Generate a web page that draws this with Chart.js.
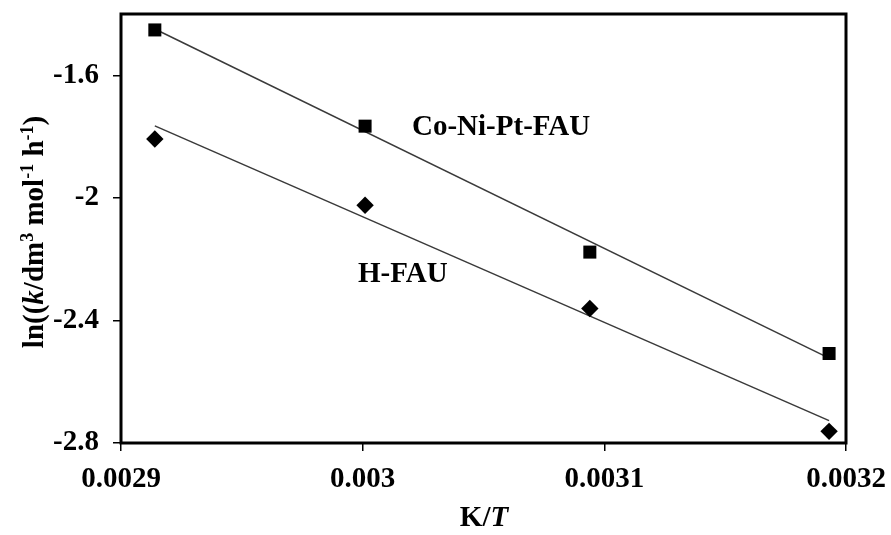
<!DOCTYPE html>
<html><head><meta charset="utf-8">
<script src="https://cdn.jsdelivr.net/npm/chart.js@4"></script>
<style>html,body{margin:0;padding:0;background:#fff}#wrap{width:891px;height:535px;position:relative}</style>
</head><body><div id="wrap"><canvas id="c"></canvas></div>
<script>
// ---- data ----
const invT = [0.002914, 0.003001, 0.003094, 0.003193];
const coNiPtFAU = [-1.452, -1.766, -2.177, -2.508];
const hFAU = [-1.808, -2.024, -2.361, -2.762];
const fitX = [0.002914, 0.003193];
const coNiPtFit = [-1.449, -2.523];
const hFAUFit = [-1.765, -2.727];
const xTicks = [0.0029, 0.0030, 0.0031, 0.0032];
const xTickLabels = ['0.0029', '0.003', '0.0031', '0.0032'];
const yTicks = [-2.8, -2.4, -2.0, -1.6];
const yTickLabels = ['-2.8', '-2.4', '-2', '-1.6'];
const seriesNames = ['Co-Ni-Pt-FAU', 'H-FAU'];

const FONT = '"Liberation Serif", "Times New Roman", serif';
const FS = 29;

const toXY = (xs, ys) => xs.map((x, i) => ({ x: x, y: ys[i] }));
const labelFor = (vals, labels, v) => {
  let best = 0;
  vals.forEach((t, i) => { if (Math.abs(t - v) < Math.abs(vals[best] - v)) best = i; });
  return labels[best];
};

function drawRich(ctx, segs, cx, cy, size, rotate) {
  ctx.save();
  ctx.translate(cx, cy);
  if (rotate) ctx.rotate(-Math.PI / 2);
  const fontFor = s => (s.i ? 'italic ' : '') + 'bold ' + (s.sup ? Math.round(size * 0.62) : size) + 'px ' + FONT;
  let total = 0;
  segs.forEach(s => { ctx.font = fontFor(s); s.w = ctx.measureText(s.t).width; total += s.w; });
  let x = -total / 2;
  ctx.textBaseline = 'alphabetic';
  ctx.textAlign = 'left';
  ctx.fillStyle = '#000';
  segs.forEach(s => { ctx.font = fontFor(s); ctx.fillText(s.t, x, s.sup ? -size * 0.36 : 0); x += s.w; });
  ctx.restore();
}

const decor = {
  id: 'decor',
  afterDraw(chart) {
    const ctx = chart.ctx, a = chart.chartArea;
    ctx.save();
    ctx.strokeStyle = '#000';
    ctx.lineWidth = 3;
    ctx.strokeRect(a.left, a.top, a.right - a.left, a.bottom - a.top);
    ctx.fillStyle = '#000';
    ctx.font = 'bold ' + FS + 'px ' + FONT;
    ctx.textAlign = 'left';
    ctx.textBaseline = 'middle';
    ctx.fillText(seriesNames[0], a.left + 291, a.top + 114);
    ctx.fillText(seriesNames[1], a.left + 237, a.top + 261);
    ctx.restore();
    drawRich(ctx, [{ t: 'K/' }, { t: 'T', i: true }], 484, 526, FS, false);
    drawRich(ctx, [
      { t: 'ln((' }, { t: 'k', i: true }, { t: '/dm' }, { t: '3', sup: true },
      { t: ' mol' }, { t: '-1', sup: true }, { t: ' h' }, { t: '-1', sup: true }, { t: ')' }
    ], 43, 232, FS, true);
  }
};

const zeroPad = s => { s.paddingTop = 0; s.paddingBottom = 0; s.paddingLeft = 0; s.paddingRight = 0; };

new Chart(document.getElementById('c'), {
  type: 'scatter',
  data: {
    datasets: [
      { label: seriesNames[0] + ' fit', data: toXY(fitX, coNiPtFit), showLine: true, borderColor: '#3a3a3a', borderWidth: 1.5, pointRadius: 0, order: 2 },
      { label: seriesNames[1] + ' fit', data: toXY(fitX, hFAUFit), showLine: true, borderColor: '#3a3a3a', borderWidth: 1.5, pointRadius: 0, order: 2 },
      { label: seriesNames[0], data: toXY(invT, coNiPtFAU), pointStyle: 'rect', pointRadius: 9.2, backgroundColor: '#000', borderColor: '#000', borderWidth: 0, order: 1 },
      { label: seriesNames[1], data: toXY(invT, hFAU), pointStyle: 'rectRot', pointRadius: 8.7, backgroundColor: '#000', borderColor: '#000', borderWidth: 0, order: 1 }
    ]
  },
  options: {
    responsive: true,
    maintainAspectRatio: false,
    animation: false,
    devicePixelRatio: 1,
    layout: { padding: { top: 14, right: 45, left: 0, bottom: 0 } },
    plugins: { legend: { display: false }, tooltip: { enabled: false } },
    scales: {
      x: {
        type: 'linear', min: 0.0029, max: 0.0032,
        afterBuildTicks: s => { s.ticks = xTicks.map(v => ({ value: v })); },
        afterFit: s => { s.height = 92; zeroPad(s); },
        grid: { display: true, drawOnChartArea: false, drawTicks: true, tickLength: 8, color: '#000', lineWidth: 1.5 },
        border: { display: false },
        ticks: { color: '#000', font: { family: FONT, size: FS, weight: 'bold' }, padding: 11, maxRotation: 0, autoSkip: false,
          callback: v => labelFor(xTicks, xTickLabels, v) }
      },
      y: {
        type: 'linear', min: -2.8, max: -1.4,
        afterBuildTicks: s => { s.ticks = yTicks.map(v => ({ value: v })); },
        afterFit: s => { s.width = 121; zeroPad(s); },
        grid: { display: true, drawOnChartArea: false, drawTicks: true, tickLength: 8, color: '#000', lineWidth: 1.5 },
        border: { display: false },
        ticks: { color: '#000', font: { family: FONT, size: FS, weight: 'bold' }, padding: 14, autoSkip: false,
          callback: v => labelFor(yTicks, yTickLabels, v) }
      }
    }
  },
  plugins: [decor]
});
</script>
</body></html>
